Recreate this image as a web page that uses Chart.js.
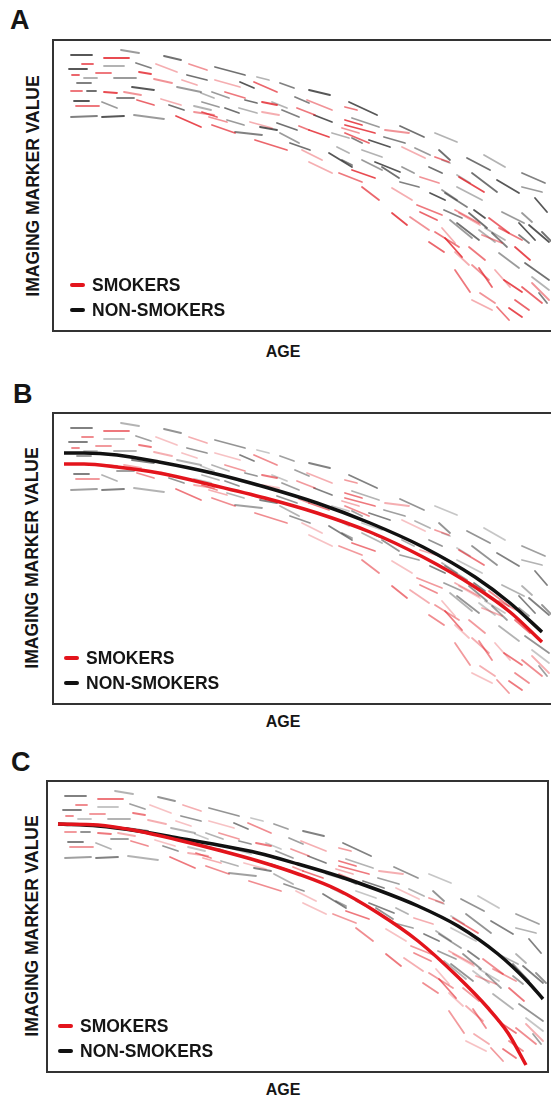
<!DOCTYPE html>
<html>
<head>
<meta charset="utf-8">
<script src="https://cdn.jsdelivr.net/npm/chart.js@4.4.0/dist/chart.umd.min.js"></script>
<style>
  html, body { margin: 0; background: #fff; }
  body { width: 551px; height: 1098px; overflow: hidden; position: relative;
         font-family: "Liberation Sans", Arial, sans-serif; font-weight: bold; color: #151515; }
  .letter { position: absolute; font-size: 27px; line-height: 1; }
  .panel { position: absolute; }
  .panel canvas { display: block; }
  .ylab { position: absolute; font-size: 17.5px; white-space: nowrap; transform: translate(-50%, -50%) rotate(-90deg); }
  .xlab { position: absolute; font-size: 16px; transform: translate(-50%, -50%); }
</style>
</head>
<body>

<div class="letter" style="left:10px;top:7px">A</div>
<div class="panel" style="left:52px;top:39px"><canvas id="chartA" width="499" height="293" style="width:499px;height:293px"></canvas></div>
<div class="ylab" style="left:33px;top:186px">IMAGING MARKER VALUE</div>
<div class="xlab" style="left:283px;top:352px">AGE</div>

<div class="letter" style="left:13px;top:381px">B</div>
<div class="panel" style="left:52px;top:412px"><canvas id="chartB" width="499" height="293" style="width:499px;height:293px"></canvas></div>
<div class="ylab" style="left:32px;top:558px">IMAGING MARKER VALUE</div>
<div class="xlab" style="left:283px;top:722px">AGE</div>

<div class="letter" style="left:11px;top:749px">C</div>
<div class="panel" style="left:46px;top:780px"><canvas id="chartC" width="503" height="293" style="width:503px;height:293px"></canvas></div>
<div class="ylab" style="left:32px;top:926px">IMAGING MARKER VALUE</div>
<div class="xlab" style="left:283px;top:1090px">AGE</div>

<script>
// series names (legend)
const seriesNames = ['SMOKERS', 'NON-SMOKERS'];

// individual trajectories: [age0, value0, age1, value1] (arbitrary units)
const smokerDashes = [
  [50,272,75,272], [135,266,153,260], [28,266,39,266], [102,266,123,258], [42,257,57,257],
  [85,258,97,256], [100,251,118,247], [18,255,25,255], [128,250,143,245], [17,239,28,239],
  [50,238,63,237], [70,238,87,235], [83,230,100,225], [107,231,127,225], [22,224,45,224],
  [122,214,147,203], [140,218,160,215], [200,248,223,238], [161,250,186,243], [171,238,191,232],
  [208,228,223,225], [253,230,278,220], [148,218,163,213], [208,218,225,215], [243,222,261,215],
  [291,210,308,205], [155,213,173,208], [158,205,181,197], [196,208,218,202], [245,204,255,200],
  [255,200,275,193], [288,202,305,197], [201,190,233,180], [248,180,268,170], [291,223,303,220],
  [291,205,321,197], [331,200,355,197], [291,197,315,187], [348,183,371,172], [381,173,395,168],
  [298,160,321,152], [366,153,385,147], [308,143,325,130], [338,142,358,130], [363,125,388,115],
  [405,153,430,138], [401,120,425,107], [435,112,455,97], [388,102,401,87], [445,102,468,90],
  [338,117,353,105], [356,113,375,100], [366,118,383,110], [405,117,426,105], [381,98,405,83],
  [391,92,408,73], [428,95,448,87], [375,88,390,78], [401,78,415,65], [415,83,431,70],
  [461,83,476,70], [418,65,435,50], [425,62,438,43], [441,60,456,43], [401,60,416,38],
  [450,50,468,38], [478,47,495,30], [468,43,488,27], [418,30,438,20], [443,23,455,10],
  [455,22,468,13], [426,37,441,27], [461,30,475,20], [255,168,278,157], [285,157,308,148]
];

const nonSmokerDashes = [
  [17,275,38,275], [67,280,85,277], [110,274,127,270], [50,264,70,264], [82,267,97,262],
  [15,261,33,261], [60,252,82,252], [133,255,153,250], [30,252,43,252], [23,247,37,247],
  [78,243,100,240], [123,243,147,238], [33,239,42,239], [147,237,160,232], [63,232,80,232],
  [20,229,35,229], [48,228,63,222], [115,225,130,220], [140,224,157,220], [17,213,43,214],
  [48,213,70,214], [80,215,110,211], [161,263,191,255], [203,253,215,250], [226,247,240,242],
  [186,248,200,242], [158,238,175,232], [191,230,203,227], [218,228,233,222], [241,233,255,227],
  [255,240,276,235], [148,228,165,223], [171,222,185,217], [185,222,203,217], [228,220,245,213],
  [260,215,278,208], [173,210,190,205], [223,207,243,200], [278,197,295,192], [181,198,208,195],
  [206,203,223,200], [226,197,245,187], [236,187,256,180], [283,183,295,177], [298,192,308,187],
  [295,228,323,215], [298,212,325,203], [346,204,370,193], [381,197,403,188], [330,193,351,187],
  [315,190,336,183], [361,182,376,175], [385,180,396,170], [308,180,328,173], [288,170,298,165],
  [321,168,346,158], [348,163,360,157], [375,163,388,157], [403,155,416,147], [346,148,365,143],
  [376,137,391,130], [388,140,403,130], [413,172,436,160], [430,175,451,163], [468,157,491,147],
  [443,150,465,137], [468,143,488,138], [418,157,443,138], [403,143,428,130], [391,137,413,123],
  [481,132,493,118], [448,118,470,107], [415,117,433,102], [431,102,451,90], [465,95,475,87],
  [475,105,495,88], [396,110,418,92], [488,98,498,88], [388,170,396,167], [390,120,408,112],
  [420,120,431,112], [468,117,478,108], [403,107,425,90], [425,100,441,88], [438,97,453,83],
  [465,107,481,90], [445,77,465,62], [471,67,495,50], [478,53,495,40], [485,37,493,27],
  [275,177,298,163], [308,170,328,160], [328,163,345,152]
];

// fitted curves, panel B (same rate of decline, offset)
const fitAgeB = [10, 30, 63, 105, 158, 211, 263, 316, 369, 421, 456, 488];
const smokerFitB = [239, 239, 236, 230, 218, 205, 190, 171, 146, 116, 91, 61];
const nonSmokerFitB = [250, 250, 248, 241, 230, 216, 200, 180, 156, 126, 100, 71];

// fitted curves, panel C (faster decline in smokers)
const smokerAgeC = [10, 50, 90, 130, 170, 210, 250, 290, 330, 370, 410, 440, 460, 478];
const smokerFitC = [247, 246, 240, 231, 221, 210, 197, 181, 158, 130, 94, 63, 38, 6];
const nonSmokerAgeC = [10, 50, 90, 130, 170, 210, 250, 290, 330, 370, 410, 450, 480, 495];
const nonSmokerFitC = [247, 245, 240, 233, 226, 218, 207, 195, 181, 165, 145, 117, 89, 72];

const RED = [226, 30, 38];
const DARK = [45, 45, 45];
const shades = [1, 0.6, 0.85, 0.45, 0.75];

function dashPoints(list) {
  const pts = [];
  list.forEach(d => {
    pts.push({ x: d[0], y: d[1] }, { x: d[2], y: d[3] }, { x: d[2], y: null });
  });
  return pts;
}

function dashDataset(list, rgb, alpha) {
  return {
    data: dashPoints(list),
    borderWidth: 1.8,
    borderCapStyle: 'round',
    pointRadius: 0,
    tension: 0,
    spanGaps: false,
    order: 5,
    segment: {
      borderColor: ctx => {
        const k = Math.floor(ctx.p0DataIndex / 3);
        const a = alpha * shades[k % shades.length];
        return `rgba(${rgb[0]},${rgb[1]},${rgb[2]},${a})`;
      }
    }
  };
}

function curveDataset(xs, ys, color) {
  return {
    data: xs.map((x, i) => ({ x: x, y: ys[i] })),
    borderColor: color,
    borderWidth: 3.5,
    pointRadius: 0,
    cubicInterpolationMode: 'monotone',
    order: 0
  };
}

// box frame around the plot area; the right side is left open when cut by the page edge
const frame = {
  id: 'frame',
  afterDraw(chart, args, opts) {
    const { ctx, chartArea: a } = chart;
    ctx.save();
    ctx.strokeStyle = '#333';
    ctx.lineWidth = 2;
    ctx.beginPath();
    if (opts.closed) {
      ctx.rect(a.left - 1, a.top - 1, a.right - a.left + 2, a.bottom - a.top + 2);
    } else {
      ctx.moveTo(chart.width, a.top - 1);
      ctx.lineTo(a.left - 1, a.top - 1);
      ctx.lineTo(a.left - 1, a.bottom + 1);
      ctx.lineTo(chart.width, a.bottom + 1);
    }
    ctx.stroke();
    ctx.restore();
  }
};

const legendInBox = {
  id: 'legendInBox',
  afterDraw(chart, args, opts) {
    const { ctx, chartArea } = chart;
    const colors = ['#e3141c', '#111'];
    ctx.save();
    ctx.font = 'bold 17.5px "Liberation Sans", Arial, sans-serif';
    ctx.textBaseline = 'middle';
    seriesNames.forEach((name, i) => {
      const y = chartArea.top + 244 + i * 25;
      const x = chartArea.left + opts.x;
      ctx.strokeStyle = colors[i];
      ctx.lineWidth = 4;
      ctx.lineCap = 'round';
      ctx.beginPath();
      ctx.moveTo(x, y);
      ctx.lineTo(x + 11, y);
      ctx.stroke();
      ctx.fillStyle = '#151515';
      ctx.fillText(name, x + 20, y + 1);
    });
    ctx.restore();
  }
};

function makePanel(id, extra, alpha, legendX, closed) {
  const canvas = document.getElementById(id);
  const w = canvas.width - (closed ? 4 : 2);
  const datasets = [
    dashDataset(smokerDashes, RED, alpha),
    dashDataset(nonSmokerDashes, DARK, alpha)
  ].concat(extra);
  new Chart(canvas, {
    type: 'line',
    data: { datasets: datasets },
    options: {
      responsive: false,
      animation: false,
      events: [],
      layout: { padding: { left: 2, top: 2, bottom: 2, right: closed ? 2 : 0 } },
      scales: {
        x: { type: 'linear', min: 0, max: w, display: false },
        y: { type: 'linear', min: 0, max: 289, display: false }
      },
      plugins: {
        legend: { display: false },
        tooltip: { enabled: false },
        legendInBox: { x: legendX },
        frame: { closed: closed }
      }
    },
    plugins: [legendInBox, frame]
  });
}

makePanel('chartA', [], 0.8, 18, false);
makePanel('chartB', [
  curveDataset(fitAgeB, smokerFitB, '#e3141c'),
  curveDataset(fitAgeB, nonSmokerFitB, '#111')
], 0.6, 12, false);
makePanel('chartC', [
  curveDataset(smokerAgeC, smokerFitC, '#e3141c'),
  curveDataset(nonSmokerAgeC, nonSmokerFitC, '#111')
], 0.6, 12, true);
</script>
</body>
</html>
